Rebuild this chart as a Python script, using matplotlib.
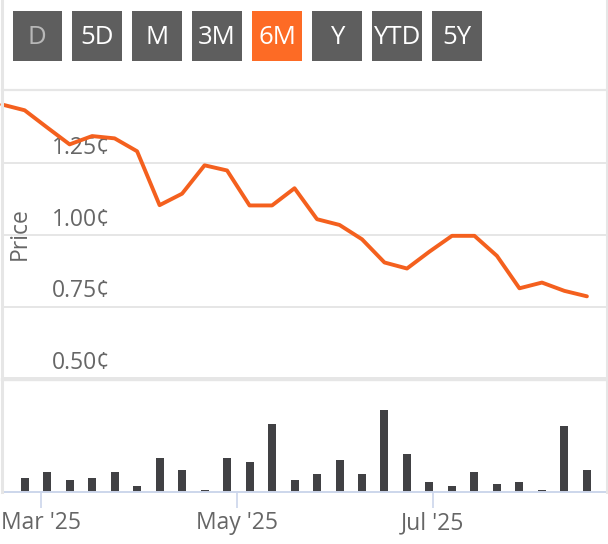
import matplotlib
matplotlib.use("Agg")
import matplotlib.pyplot as plt
import matplotlib.dates as mdates
from matplotlib.patches import Rectangle
from matplotlib.lines import Line2D
import numpy as np
import datetime as dt

# ---------------- data ----------------
start = dt.date(2025, 2, 17)
price_dates = [start + dt.timedelta(days=7 * i) for i in range(27)]
prices = [1.455, 1.435, 1.375, 1.316, 1.345, 1.337, 1.292, 1.104, 1.144, 1.243,
          1.225, 1.103, 1.103, 1.163, 1.055, 1.035, 0.985, 0.904, 0.883, 0.942,
          0.997, 0.997, 0.927, 0.814, 0.834, 0.805, 0.786]
volume_dates = price_dates[1:]
volumes = [14.3, 20.3, 12.3, 14.3, 20.3, 6.3, 34.3, 22.3, 2.3, 34.3,
           30.3, 68.3, 12.3, 18.3, 32.3, 18.3, 82.3, 38.3, 10.3, 6.3,
           20.3, 8.3, 10.3, 2.3, 66.3, 22.3]
price_ticks = [0.50, 0.75, 1.00, 1.25]
buttons = ["D", "5D", "M", "3M", "6M", "Y", "YTD", "5Y"]
selected = "6M"
disabled = "D"

# ---------------- style ----------------
W, H = 608, 544
FONT = ["Open Sans", "DejaVu Sans"]
plt.rcParams["font.family"] = FONT
TXT = "#666666"
GRID = "#e6e6e6"
ORANGE_LINE = "#f4601e"
ORANGE_BTN = "#fd6b25"
BTN_GREY = "#5e5e5e"
BAR = "#414144"
AXIS = "#ccd6eb"

fig = plt.figure(figsize=(W / 100, H / 100), dpi=100)
fig.patch.set_facecolor("white")

def rect(x0, y0, x1, y1):
    return [x0 / W, 1 - y1 / H, (x1 - x0) / W, (y1 - y0) / H]

mar1 = mdates.date2num(dt.date(2025, 3, 1))
ppd = 3.213  # pixels per day
def xpix_to_num(px):
    return mar1 + (px - 40.7) / ppd

XL, XR = 2, 606

# ---------------- price panel ----------------
ax = fig.add_axes(rect(XL, 90, XR, 379))
ax.set_facecolor("none")
ax.set_xlim(xpix_to_num(XL), xpix_to_num(XR))
ax.set_ylim(0.4976, 1.5057)
for s in ax.spines.values():
    s.set_visible(False)
ax.set_xticks([])
ax.set_yticks([])
for v in price_ticks:
    ax.axhline(v, color=GRID, lw=1.4, zorder=1, clip_on=False)
    ax.annotate(f"{v:.2f}¢", xy=((110 - XL) / (XR - XL), v),
                xycoords=ax.get_yaxis_transform(),
                xytext=(0, 2.5), textcoords="offset points",
                ha="right", va="bottom", fontsize=16.5, color=TXT, zorder=2)
ax.plot(mdates.date2num(price_dates), prices, color=ORANGE_LINE, lw=2.8,
        solid_joinstyle="round", solid_capstyle="round", zorder=3, clip_on=False)
fig.text(20 / W, 1 - 234 / H, "Price", rotation=90, ha="center", va="center",
         fontsize=16.5, color=TXT)

# ---------------- volume panel ----------------
axv = fig.add_axes(rect(XL, 381, XR, 492))
axv.set_facecolor("none")
axv.set_xlim(xpix_to_num(XL), xpix_to_num(XR))
axv.set_ylim(0, 111)
axv.bar(mdates.date2num(volume_dates), volumes, width=8 / ppd, color=BAR, zorder=2)
for k, s in axv.spines.items():
    s.set_visible(k == "bottom")
axv.spines["bottom"].set_color(AXIS)
axv.spines["bottom"].set_linewidth(1.4)
axv.set_yticks([])
axv.xaxis.set_major_locator(mdates.MonthLocator(bymonth=[3, 5, 7]))
axv.xaxis.set_major_formatter(mdates.DateFormatter("%b '%y"))
axv.tick_params(axis="x", direction="out", length=11.5, width=1.2, color=AXIS,
                labelsize=16.5, labelcolor=TXT, pad=2.5)

# ---------------- overlay: frame + buttons ----------------
ov = fig.add_axes([0, 0, 1, 1])
ov.set_xlim(0, W)
ov.set_ylim(H, 0)
ov.axis("off")
ov.patch.set_alpha(0)
ov.add_line(Line2D([1.5, 1.5], [0, 492], color=GRID, lw=2.2))
ov.add_line(Line2D([606.5, 606.5], [0, 492], color=GRID, lw=2.2))
ov.add_line(Line2D([1.5, 606.5], [90, 90], color=GRID, lw=1.6))
ov.add_line(Line2D([1.5, 606.5], [379, 379], color=GRID, lw=2.4))

for i, b in enumerate(buttons):
    x0 = 12.5 + i * 59.95
    fc = ORANGE_BTN if b == selected else BTN_GREY
    ov.add_patch(Rectangle((x0, 11), 49.5, 50, facecolor=fc, edgecolor="none"))
    tc = "#b8b8b8" if b == disabled else "white"
    ov.text(x0 + 24.75, 37, b, ha="center", va="center", fontsize=18.5, color=tc)

fig.savefig("out.png", dpi=100)
